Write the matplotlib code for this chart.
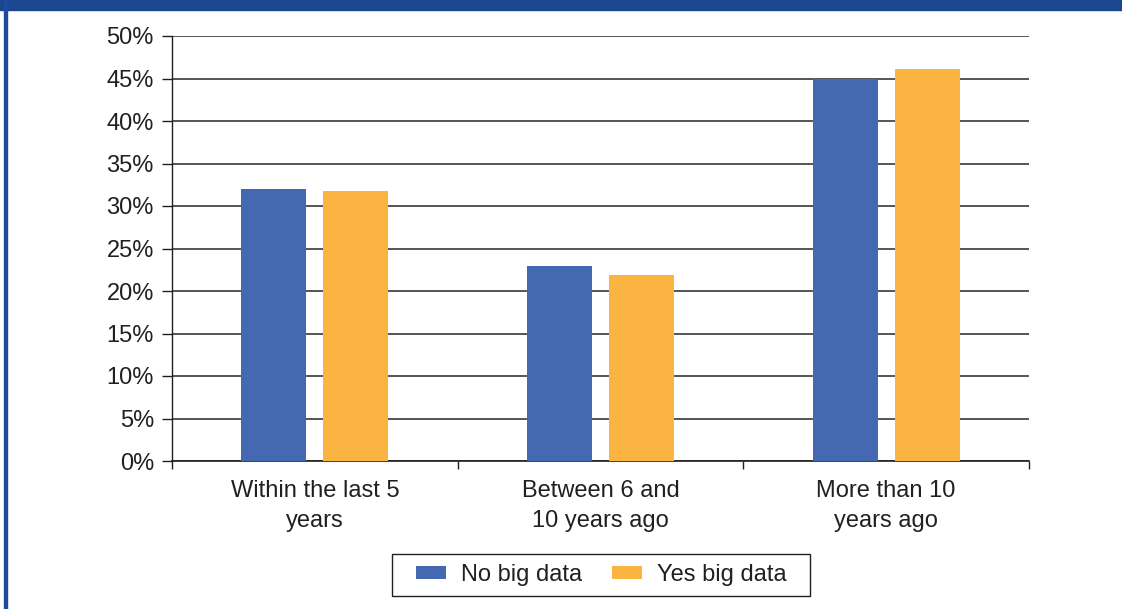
# Bar chart: when companies were founded, split by big data use
import numpy as np
import matplotlib.pyplot as plt
from matplotlib.patches import Rectangle
from matplotlib.ticker import FixedLocator

plt.rcParams['font.family'] = ['Liberation Sans', 'DejaVu Sans']

categories = ['Within the last 5\nyears', 'Between 6 and\n10 years ago', 'More than 10\nyears ago']
no_big_data = [32.0, 23.0, 44.9]
yes_big_data = [31.8, 21.9, 46.1]
series_names = ['No big data', 'Yes big data']
yticks = [0, 5, 10, 15, 20, 25, 30, 35, 40, 45, 50]

W, H = 1122, 609
FS = 17
ink = '#231f20'
fig = plt.figure(figsize=(W / 100, H / 100), dpi=100)
ax = fig.add_axes([172 / W, 1 - 461 / H, (1029 - 172) / W, (461 - 36) / H])

x = np.arange(len(categories))
bw = 0.2275
off = 0.1435
b1 = ax.bar(x - off, no_big_data, bw, color='#4469b1', zorder=3, label=series_names[0])
b2 = ax.bar(x + off, yes_big_data, bw, color='#fbb441', zorder=3, label=series_names[1])

ax.set_xlim(-0.5, len(categories) - 0.5)
ax.set_ylim(0, 50)
ax.set_yticks(yticks)
ax.set_yticklabels([f'{v}%' for v in yticks])
ax.grid(axis='y', color='#555555', lw=1.4, zorder=1)
ax.set_axisbelow(True)

ax.set_xticks(x)
ax.set_xticklabels(categories, linespacing=1.45)
ax.xaxis.set_minor_locator(FixedLocator(np.arange(len(categories) + 1) - 0.5))
ax.tick_params(axis='x', which='major', length=0, pad=14, labelsize=FS, labelcolor=ink)
ax.tick_params(axis='x', which='minor', length=6, width=1, direction='out', color=ink)
ax.tick_params(axis='y', length=7, width=1, direction='out', pad=6, labelsize=FS,
               labelcolor=ink, color=ink)

for s in ['top', 'right']:
    ax.spines[s].set_visible(False)
ax.spines['left'].set_color(ink)
ax.spines['bottom'].set_color(ink)
ax.spines['left'].set_linewidth(1)
ax.spines['bottom'].set_linewidth(1.2)

leg = fig.legend(handles=[b1, b2], loc='center', bbox_to_anchor=(601 / W, 1 - 575 / H),
                 ncol=2, fontsize=FS, frameon=False,
                 handlelength=1.27, handleheight=0.47, columnspacing=1.27,
                 handletextpad=0.64)
for t in leg.get_texts():
    t.set_color(ink)
# legend box
fig.patches.append(Rectangle((392 / W, 1 - 596 / H), (810 - 392) / W, 42 / H,
                             transform=fig.transFigure, fill=False, edgecolor=ink, lw=1))

# blue frame: band on top and a thin line on the left
fig.patches.append(Rectangle((0, 1 - 10 / H), 1, 10 / H, transform=fig.transFigure,
                             color='#1b4690', zorder=10))
fig.patches.append(Rectangle((4 / W, 0), 3 / W, 1, transform=fig.transFigure,
                             color='#1f4c9a', zorder=10))

fig.savefig('out.png', dpi=100)
